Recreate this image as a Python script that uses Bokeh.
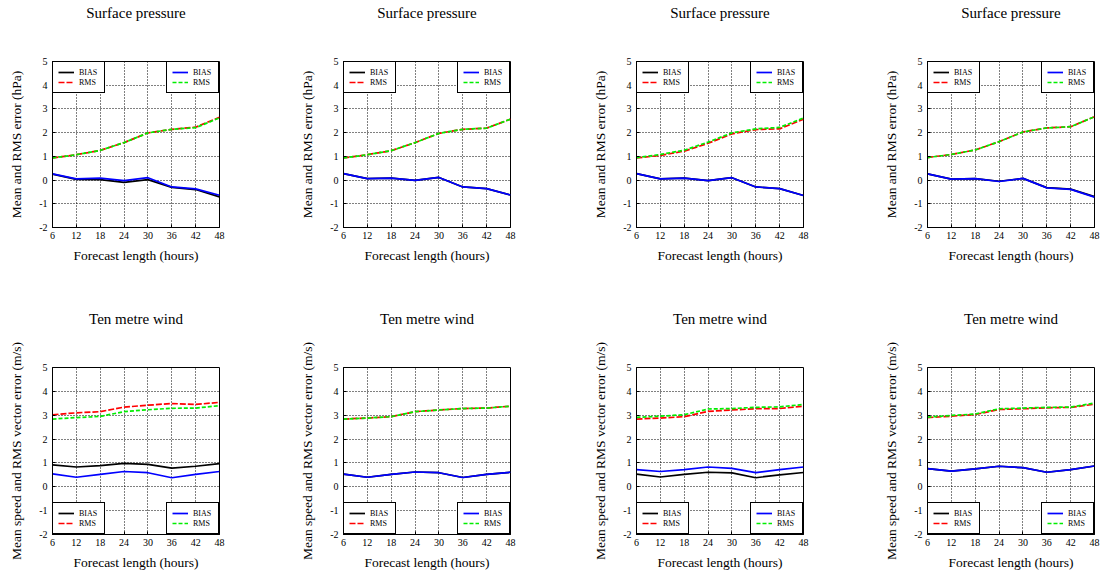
from bokeh.plotting import figure
from bokeh.models import Range1d, FixedTicker, Legend, LegendItem, Title
from bokeh.layouts import row, column
from bokeh.embed import file_html
from bokeh.resources import INLINE

hours = [6, 12, 18, 24, 30, 36, 42, 48]
x_ticks = [6, 12, 18, 24, 30, 36, 42, 48]
y_ticks = [-2, -1, 0, 1, 2, 3, 4, 5]
y_tick_labels = ["-2", "-1", "0", "1", "2", "3", "4", "5"]

title_top = "Surface pressure"
title_bottom = "Ten metre wind"
ylabel_top = "Mean and RMS error (hPa)"
ylabel_bottom = "Mean speed and RMS vector error (m/s)"
xlabel = "Forecast length (hours)"
legend_labels = ["BIAS", "RMS"]

# Surface pressure panels
sp1_bias_a = [0.25, 0.03, 0.02, -0.10, 0.02, -0.31, -0.40, -0.71]
sp1_rms_a = [0.93, 1.07, 1.25, 1.58, 1.99, 2.14, 2.23, 2.65]
sp1_bias_b = [0.26, 0.05, 0.08, -0.02, 0.10, -0.29, -0.37, -0.64]
sp1_rms_b = [0.93, 1.07, 1.25, 1.58, 1.99, 2.14, 2.21, 2.62]

sp2_bias_a = [0.27, 0.06, 0.08, -0.01, 0.11, -0.29, -0.36, -0.63]
sp2_rms_a = [0.93, 1.07, 1.24, 1.58, 1.97, 2.14, 2.19, 2.57]
sp2_bias_b = [0.27, 0.06, 0.08, -0.01, 0.11, -0.29, -0.36, -0.63]
sp2_rms_b = [0.93, 1.07, 1.24, 1.58, 1.97, 2.14, 2.19, 2.57]

sp3_bias_a = [0.27, 0.05, 0.08, -0.02, 0.10, -0.29, -0.36, -0.65]
sp3_rms_a = [0.93, 1.04, 1.22, 1.55, 1.95, 2.13, 2.16, 2.57]
sp3_bias_b = [0.27, 0.05, 0.08, -0.02, 0.10, -0.29, -0.36, -0.65]
sp3_rms_b = [0.94, 1.08, 1.26, 1.60, 1.99, 2.16, 2.22, 2.62]

sp4_bias_a = [0.26, 0.04, 0.06, -0.05, 0.07, -0.32, -0.38, -0.70]
sp4_rms_a = [0.95, 1.08, 1.27, 1.62, 2.03, 2.20, 2.25, 2.67]
sp4_bias_b = [0.26, 0.04, 0.06, -0.06, 0.07, -0.33, -0.39, -0.72]
sp4_rms_b = [0.95, 1.08, 1.27, 1.62, 2.03, 2.20, 2.25, 2.67]

# Ten metre wind panels
w1_bias_a = [0.92, 0.83, 0.89, 0.98, 0.94, 0.78, 0.86, 0.97]
w1_rms_a = [3.02, 3.10, 3.15, 3.34, 3.42, 3.49, 3.45, 3.54]
w1_bias_b = [0.54, 0.40, 0.52, 0.64, 0.59, 0.38, 0.52, 0.64]
w1_rms_b = [2.84, 2.90, 2.95, 3.15, 3.23, 3.29, 3.30, 3.40]

w2_bias_a = [0.53, 0.40, 0.52, 0.62, 0.59, 0.39, 0.52, 0.61]
w2_rms_a = [2.84, 2.88, 2.94, 3.15, 3.22, 3.28, 3.30, 3.38]
w2_bias_b = [0.53, 0.40, 0.52, 0.62, 0.59, 0.39, 0.52, 0.61]
w2_rms_b = [2.84, 2.88, 2.94, 3.15, 3.22, 3.28, 3.30, 3.38]

w3_bias_a = [0.53, 0.41, 0.52, 0.61, 0.58, 0.38, 0.50, 0.60]
w3_rms_a = [2.84, 2.88, 2.94, 3.16, 3.22, 3.27, 3.28, 3.38]
w3_bias_b = [0.72, 0.64, 0.72, 0.83, 0.77, 0.59, 0.72, 0.83]
w3_rms_b = [2.91, 2.96, 3.02, 3.26, 3.28, 3.33, 3.35, 3.45]

w4_bias_a = [0.76, 0.66, 0.75, 0.86, 0.80, 0.61, 0.72, 0.87]
w4_rms_a = [2.90, 2.96, 3.03, 3.24, 3.27, 3.31, 3.33, 3.46]
w4_bias_b = [0.76, 0.66, 0.75, 0.86, 0.80, 0.61, 0.72, 0.87]
w4_rms_b = [2.92, 2.99, 3.05, 3.27, 3.30, 3.33, 3.34, 3.51]

top_series = [
    (sp1_bias_a, sp1_rms_a, sp1_bias_b, sp1_rms_b),
    (sp2_bias_a, sp2_rms_a, sp2_bias_b, sp2_rms_b),
    (sp3_bias_a, sp3_rms_a, sp3_bias_b, sp3_rms_b),
    (sp4_bias_a, sp4_rms_a, sp4_bias_b, sp4_rms_b),
]
bottom_series = [
    (w1_bias_a, w1_rms_a, w1_bias_b, w1_rms_b),
    (w2_bias_a, w2_rms_a, w2_bias_b, w2_rms_b),
    (w3_bias_a, w3_rms_a, w3_bias_b, w3_rms_b),
    (w4_bias_a, w4_rms_a, w4_bias_b, w4_rms_b),
]

FONT = "Liberation Serif"
LEFT = 52
FRAME_W = 167
right_borders = [72, 74, 72, 7]


def make_panel(series, title, ylabel, top_row, col):
    if top_row:
        mb_top, fh, mb_bot = 61, 166, 63
    else:
        mb_top, fh, mb_bot = 77, 167, 39
    p = figure(output_backend="svg", toolbar_location=None,
               width=LEFT + FRAME_W + right_borders[col],
               height=mb_top + fh + mb_bot,
               min_border_left=LEFT, min_border_right=right_borders[col],
               min_border_top=mb_top, min_border_bottom=mb_bot,
               x_range=Range1d(6, 48), y_range=Range1d(-2, 5))

    # spacer between frame and title, then the title itself
    p.add_layout(Title(text=" ", text_font_size="1px", standoff=38), "above")
    p.add_layout(Title(text=title, text_font=FONT, text_font_size="15px",
                       text_font_style="normal", align="center",
                       text_color="black", standoff=0), "above")

    p.outline_line_color = "black"
    p.outline_line_width = 1
    p.outline_line_alpha = 1

    p.xaxis.ticker = FixedTicker(ticks=x_ticks)
    p.yaxis.ticker = FixedTicker(ticks=y_ticks)
    p.yaxis.major_label_overrides = dict(zip(y_ticks, y_tick_labels))
    for ax in (p.xaxis[0], p.yaxis[0]):
        ax.axis_line_color = "black"
        ax.major_tick_in = 3
        ax.major_tick_out = 0
        ax.minor_tick_line_color = None
        ax.major_tick_line_color = "black"
        ax.major_label_text_font = FONT
        ax.major_label_text_font_size = "10px"
        ax.major_label_text_color = "black"
        ax.axis_label_text_font = FONT
        ax.axis_label_text_font_size = "13.5px"
        ax.axis_label_text_font_style = "normal"
        ax.axis_label_text_color = "black"
    p.xaxis.axis_label = xlabel
    p.yaxis.axis_label = ylabel
    p.xaxis.major_label_standoff = 4
    p.xaxis.axis_label_standoff = 6
    p.yaxis.major_label_standoff = 5
    p.yaxis.axis_label_standoff = 12

    for g in (p.xgrid[0], p.ygrid[0]):
        g.grid_line_color = "black"
        g.grid_line_dash = "1 2"
        g.grid_line_width = 1
        g.grid_line_alpha = 1
    p.xgrid.ticker = FixedTicker(ticks=x_ticks)
    p.ygrid.ticker = FixedTicker(ticks=y_ticks)

    bias_a, rms_a, bias_b, rms_b = series
    lw = 1.7
    r_ba = p.line(hours, bias_a, line_color="black", line_width=lw)
    r_ra = p.line(hours, rms_a, line_color="red", line_width=lw, line_dash="6 2")
    r_bb = p.line(hours, bias_b, line_color="blue", line_width=lw)
    r_rb = p.line(hours, rms_b, line_color="#00ee00", line_width=lw, line_dash="4 2")

    locs = ("top_left", "top_right") if top_row else ("bottom_left", "bottom_right")
    for loc, rs in zip(locs, ((r_ba, r_ra), (r_bb, r_rb))):
        leg = Legend(items=[LegendItem(label=legend_labels[0], renderers=[rs[0]]),
                            LegendItem(label=legend_labels[1], renderers=[rs[1]])],
                     location=loc)
        leg.margin = 0
        leg.padding = 5
        leg.spacing = 0
        leg.glyph_width = 16
        leg.glyph_height = 10
        leg.label_height = 10
        leg.label_standoff = 5
        leg.label_text_font = FONT
        leg.label_text_font_size = "8px"
        leg.label_text_color = "black"
        leg.border_line_color = "black"
        leg.border_line_width = 1
        leg.border_line_alpha = 1
        leg.background_fill_color = "white"
        leg.background_fill_alpha = 1
        p.add_layout(leg)
    return p


top = [make_panel(s, title_top, ylabel_top, True, i) for i, s in enumerate(top_series)]
bottom = [make_panel(s, title_bottom, ylabel_bottom, False, i) for i, s in enumerate(bottom_series)]

layout = column(row(*top, spacing=0), row(*bottom, spacing=0), spacing=0)

open("out.html", "w").write(file_html(layout, INLINE))
